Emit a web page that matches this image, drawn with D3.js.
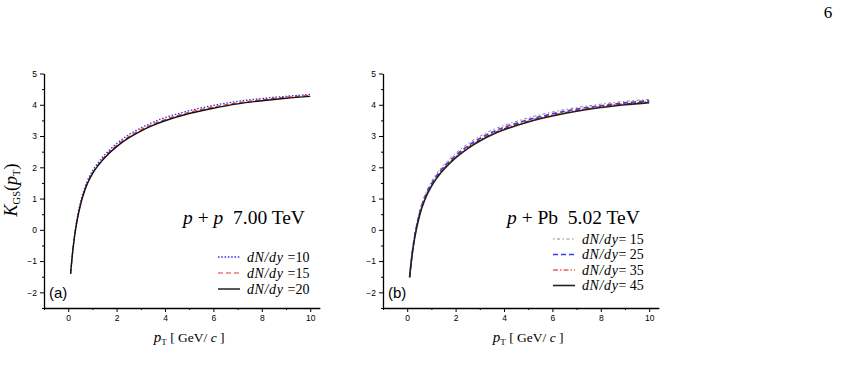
<!DOCTYPE html>
<html>
<head>
<meta charset="utf-8">
<script src="https://cdn.jsdelivr.net/npm/d3@7"></script>
<style>
  body { margin: 0; background: #fff; }
  .tick text { font-family: "Liberation Sans", Arial, sans-serif; font-size: 8.5px; }
  .serif { font-family: "Liberation Serif", "DejaVu Serif", serif; }
</style>
</head>
<body>
<div id="chart"></div>
<script>
var w = 845, h = 390;

// transverse momentum grid shared by all curves
var pT = [0.1, 0.2, 0.3, 0.4, 0.5, 0.6, 0.8, 1.0, 1.2, 1.5, 2.0, 2.5, 3.0, 3.5, 4.0, 5.0, 6.0, 7.0, 8.0, 9.0, 10.0];

// panel (a): p+p 7.00 TeV
var ppLabels = ["dN/dy =10", "dN/dy =15", "dN/dy =20"];
var pp10 = [-1.40, -0.57, 0.04, 0.50, 0.86, 1.15, 1.58, 1.88, 2.11, 2.39, 2.76, 3.04, 3.26, 3.44, 3.59, 3.81, 3.98, 4.11, 4.20, 4.27, 4.33];
var pp15 = [-1.40, -0.59, 0.00, 0.45, 0.80, 1.09, 1.52, 1.82, 2.05, 2.33, 2.70, 2.98, 3.20, 3.38, 3.53, 3.76, 3.93, 4.06, 4.16, 4.24, 4.30];
var pp20 = [-1.40, -0.60, -0.02, 0.42, 0.77, 1.06, 1.49, 1.79, 2.02, 2.30, 2.66, 2.94, 3.16, 3.34, 3.49, 3.72, 3.89, 4.03, 4.13, 4.21, 4.27];

// panel (b): p+Pb 5.02 TeV
var pPbLabels = ["dN/dy= 15", "dN/dy= 25", "dN/dy= 35", "dN/dy= 45"];
var pPb15 = [-1.50, -0.76, -0.20, 0.23, 0.57, 0.84, 1.24, 1.54, 1.78, 2.07, 2.45, 2.75, 2.99, 3.19, 3.34, 3.58, 3.77, 3.91, 4.02, 4.11, 4.17];
var pPb25 = [-1.51, -0.79, -0.25, 0.17, 0.50, 0.77, 1.17, 1.47, 1.71, 2.00, 2.38, 2.68, 2.92, 3.12, 3.28, 3.52, 3.71, 3.86, 3.97, 4.06, 4.13];
var pPb35 = [-1.52, -0.81, -0.28, 0.13, 0.45, 0.72, 1.12, 1.42, 1.66, 1.95, 2.33, 2.63, 2.87, 3.07, 3.23, 3.48, 3.67, 3.82, 3.94, 4.03, 4.10];
var pPb45 = [-1.52, -0.82, -0.30, 0.10, 0.42, 0.69, 1.09, 1.39, 1.63, 1.92, 2.30, 2.60, 2.84, 3.04, 3.20, 3.45, 3.64, 3.79, 3.91, 4.00, 4.07];

var xTicks = [0, 2, 4, 6, 8, 10];
var yTicks = [-2, -1, 0, 1, 2, 3, 4, 5];

var svg = d3.select("#chart").append("svg")
  .attr("width", w).attr("height", h);

// page number
svg.append("text").attr("class", "serif")
  .attr("x", 828).attr("y", 18)
  .attr("text-anchor", "middle")
  .style("font-size", "17px")
  .text("6");

function panel(opts) {
  var x = d3.scaleLinear().domain([-1, 10.4]).range([opts.left, opts.left + 24.2 * 11.4]);
  var y = d3.scaleLinear().domain([-2.5, 5]).range([308, 73.5]);

  var g = svg.append("g");

  // minor ticks
  var xMinor = d3.axisBottom(x).tickValues(d3.range(-1, 10.5, 2)).tickSize(2).tickFormat("");
  var yMinor = d3.axisLeft(y).tickValues(d3.range(-2.5, 5, 1)).tickSize(2).tickFormat("");
  g.append("g").attr("transform", "translate(0,308)").call(xMinor)
    .call(function(a) { a.select(".domain").remove(); });
  g.append("g").attr("transform", "translate(" + opts.left + ",0)").call(yMinor)
    .call(function(a) { a.select(".domain").remove(); });

  var xAxis = d3.axisBottom(x).tickValues(xTicks).tickSize(4).tickSizeOuter(0).tickPadding(3);
  var yAxis = d3.axisLeft(y).tickValues(yTicks).tickSize(4).tickSizeOuter(0).tickPadding(3)
    .tickFormat(function(d) { return d < 0 ? "\u2212" + (-d) : d; });

  g.append("g").attr("transform", "translate(0,308)").call(xAxis)
    .call(function(a) { a.select(".domain").attr("stroke-width", 1.3); });
  g.append("g").attr("transform", "translate(" + opts.left + ",0)").call(yAxis)
    .call(function(a) { a.select(".domain").attr("stroke-width", 1.3); });

  var line = d3.line()
    .x(function(d) { return x(d[0]); })
    .y(function(d) { return y(d[1]); })
    .curve(d3.curveCatmullRom.alpha(0.5));

  opts.series.forEach(function(s) {
    g.append("path")
      .datum(pT.map(function(p, i) { return [p, s.values[i]]; }))
      .attr("d", line)
      .attr("fill", "none")
      .attr("stroke", s.color)
      .attr("stroke-width", s.width)
      .attr("stroke-dasharray", s.dash);
  });

  // legend
  opts.series.forEach(function(s, i) {
    var ly = opts.legendY + i * opts.legendStep;
    g.append("line")
      .attr("x1", opts.legendX).attr("x2", opts.legendX + 22)
      .attr("y1", ly).attr("y2", ly)
      .attr("stroke", s.color).attr("stroke-width", s.width)
      .attr("stroke-dasharray", s.dash);
    var parts = s.label.split("=");
    var t = g.append("text").attr("class", "serif")
      .attr("x", opts.legendX + 29).attr("y", ly + 4.5)
      .style("font-size", "14px");
    t.append("tspan").style("font-style", "italic").attr("letter-spacing", "0.6").text(parts[0]);
    t.append("tspan").text("=" + parts[1]);
  });

  // panel title
  var tt = g.append("text").attr("class", "serif")
    .attr("x", opts.titleX).attr("y", 224)
    .style("font-size", "19.5px");
  tt.append("tspan").style("font-style", "italic").text("p");
  tt.append("tspan").text(" + ");
  tt.append("tspan").style("font-style", opts.titleItalic ? "italic" : "normal").text(opts.target);
  tt.append("tspan").attr("xml:space", "preserve").text("  " + opts.energy);

  // panel letter
  g.append("text")
    .attr("x", opts.left + 5).attr("y", 298)
    .style("font-family", "Liberation Sans, Arial, sans-serif")
    .style("font-size", "15px")
    .text(opts.letter);

  // x label
  var xl = g.append("text").attr("class", "serif")
    .attr("x", x(5)).attr("y", 342)
    .attr("text-anchor", "middle")
    .style("font-size", "13.5px");
  xl.append("tspan").style("font-style", "italic").style("font-size", "15px").text("p");
  xl.append("tspan").attr("dy", 3).style("font-size", "9px").text("T");
  xl.append("tspan").attr("dy", -3).text(" [ GeV/ ");
  xl.append("tspan").style("font-style", "italic").text("c");
  xl.append("tspan").text(" ]");

  return g;
}

panel({
  left: 44, letter: "(a)", titleX: 183, target: "p", titleItalic: true, energy: "7.00 TeV",
  legendX: 218, legendY: 257, legendStep: 16,
  series: [
    { label: ppLabels[0], values: pp10, color: "#2a2af0", width: 1.3, dash: "1.5,1.8" },
    { label: ppLabels[1], values: pp15, color: "#f03030", width: 1.2, dash: "5,3" },
    { label: ppLabels[2], values: pp20, color: "#111", width: 1.4, dash: null }
  ]
});

panel({
  left: 383, letter: "(b)", titleX: 507, target: "Pb", titleItalic: false, energy: "5.02 TeV",
  legendX: 553, legendY: 239, legendStep: 15.5,
  series: [
    { label: pPbLabels[0], values: pPb15, color: "#888", width: 1, dash: "1.5,2.5,3,2.5" },
    { label: pPbLabels[1], values: pPb25, color: "#3a3af5", width: 1.6, dash: "5,3" },
    { label: pPbLabels[2], values: pPb35, color: "#e01010", width: 1.2, dash: "5,2,1.5,2" },
    { label: pPbLabels[3], values: pPb45, color: "#222", width: 1.6, dash: null }
  ]
});

// y label K_GS(p_T)
var yl = svg.append("text").attr("class", "serif")
  .attr("transform", "translate(17,190) rotate(-90)")
  .attr("text-anchor", "middle")
  .style("font-size", "18px");
yl.append("tspan").style("font-style", "italic").text("K");
yl.append("tspan").attr("dy", 3).style("font-size", "10.5px").text("GS");
yl.append("tspan").attr("dy", -3).text("(");
yl.append("tspan").style("font-style", "italic").text("p");
yl.append("tspan").attr("dy", 3).style("font-size", "10.5px").text("T");
yl.append("tspan").attr("dy", -3).text(")");
</script>
</body>
</html>
